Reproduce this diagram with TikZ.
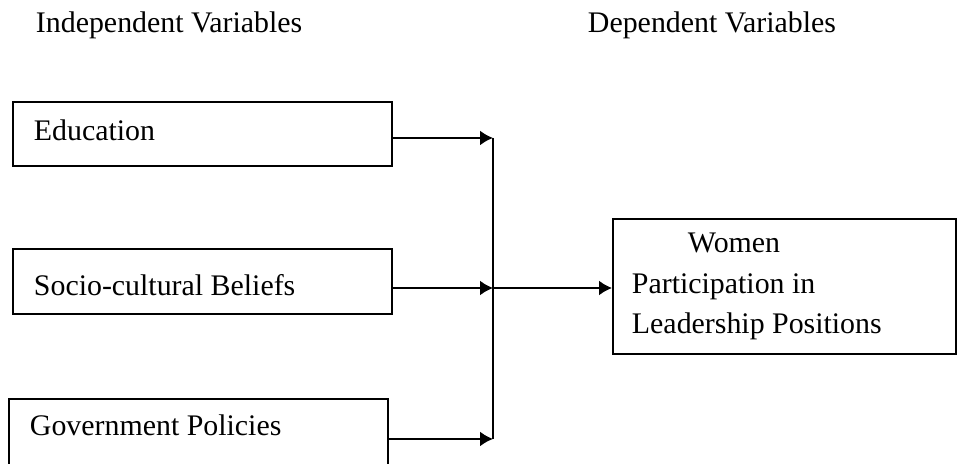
\documentclass[tikz,border=0pt]{standalone}
\usepackage{fontspec}
\setmainfont{Liberation Serif}
\usetikzlibrary{arrows.meta}

\begin{document}
\begin{tikzpicture}[x=0.2mm, y=-0.2mm, line width=1.1pt,
  >={Latex[length=2.6mm,width=3mm]},
  txt/.style={font=\fontsize{17}{23.2}\selectfont,
    execute at begin node={\spaceskip=0.25em plus 0.1em\relax}},
  head/.style={txt, anchor=base west, inner sep=0pt},
  varbox/.style={txt, draw, anchor=north west, inner xsep=4.2mm, inner ysep=0pt,
    text width=67.4mm, align=left, text height=7.8mm, text depth=5mm}]
\clip (0,0) rectangle (959,464);
\useasboundingbox (0,0) rectangle (959,464);
% headings
\node[head] (indep) at (35,33) {Independent Variables};
\node[head] (dep) at (587,33) {Dependent Variables};
% independent variables
\node[varbox] (edu) at (12,101) {Education};
\node[varbox, text height=9.4mm, text depth=3.6mm] (soc) at (12,248) {Socio-cultural Beliefs};
\node[varbox, text height=7.4mm, text depth=8.6mm] (gov) at (8,398) {Government Policies};
% dependent variable
\node[txt, draw, anchor=north west, inner xsep=3.8mm, text width=61mm,
  minimum height=27mm, align=left] (women) at (612,218)
  {\hspace*{11.2mm}Women\\Participation in\\Leadership Positions};
\coordinate (bus) at (493,288);
\draw[->] ([yshift=-0.8mm]edu.east) -- ([yshift=-0.8mm]edu.east -| bus);
\draw[->] (soc.east |- bus) -- (bus);
\draw[->] (gov.east) -- (gov.east -| bus);
\draw ([yshift=-0.8mm]edu.east -| bus) -- (gov.east -| bus);
\draw[->] (bus) -- (women.west |- bus);
\end{tikzpicture}
\end{document}
